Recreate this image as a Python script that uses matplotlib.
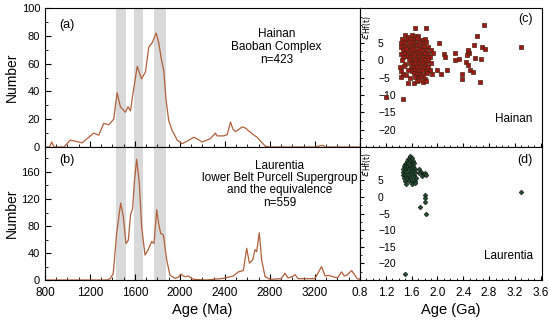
import matplotlib
matplotlib.use('Agg')
import matplotlib.pyplot as plt
from matplotlib.ticker import MultipleLocator
import numpy as np

plt.rcParams['font.family'] = ['Liberation Sans', 'DejaVu Sans']

# ---------------- data ----------------
# (a) Hainan, Baoban Complex: age (Ma) vs number
hainan_age = [800, 840, 860, 880, 970, 1024, 1080, 1129, 1189, 1233, 1278, 1322, 1367,
              1411, 1441, 1470, 1515, 1538, 1560, 1581, 1620, 1658, 1693, 1723, 1753,
              1788, 1811, 1835, 1856, 1876, 1900, 1930, 1975, 2019, 2070, 2122, 2160,
              2196, 2240, 2270, 2315, 2330, 2350, 2390, 2420, 2449, 2470, 2493, 2520,
              2553, 2585, 2612, 2650, 2686, 2730, 2760, 2800, 3200, 3250, 3271, 3290, 3600]
hainan_num = [0, 0, 3.6, 0, 0, 5, 4, 3, 7, 10, 8.5, 17, 16,
              20, 39, 29, 25, 29, 26, 38, 58, 49, 54, 72, 75,
              82, 75, 63, 55, 34, 19, 12, 5, 2.4, 4.5, 7, 5.5,
              3.6, 5, 6, 10, 8, 8, 8, 9, 18, 13, 11, 12.5,
              14.5, 13.5, 11.5, 9, 7, 3, 0.5, 0, 0, 1, 1.2, 0, 0]

# (b) Laurentia, lower Belt Purcell Supergroup and the equivalence
laur_age = [800, 1348, 1380, 1407, 1437, 1473, 1496, 1520, 1541, 1561, 1579, 1594, 1615,
            1638, 1659, 1689, 1718, 1748, 1769, 1793, 1810, 1828, 1852, 1882, 1911,
            1956, 1985, 2009, 2028, 2045, 2075, 2119, 2237, 2385, 2474, 2519, 2563,
            2593, 2617, 2647, 2667, 2682, 2705, 2726, 2756, 2800, 2900, 2933, 2960,
            3000, 3022, 3050, 3200, 3259, 3290, 3317, 3400, 3437, 3460, 3481, 3526, 3576, 3600]
laur_num = [0, 0, 2, 10, 69, 114, 94, 54, 59, 97, 106, 144, 179,
            144, 79, 37, 45, 57, 54, 104, 84, 69, 67, 30, 7,
            2.5, 4, 9, 6, 5, 6, 1, 0, 2.5, 6, 12, 14,
            47, 25, 30, 45, 42, 70, 30, 5, 1, 2, 10, 3,
            5, 8, 2, 2, 20, 6, 7, 3, 12, 6, 7, 14, 2, 1]

# grey age bands (Ma)
bands = [(1430, 1520), (1590, 1670), (1770, 1875)]

# (c) Hainan zircon age (Ga) vs eHf(t)
hainan_hf = [
    (1.20, -10.7), (1.47, -11.1), (1.54, -6.6), (1.63, -6.6), (1.66, 9.2), (1.82, 9.2),
    (2.72, 10.2), (2.61, 7.0), (2.03, 4.8), (2.27, 2.1), (2.10, 1.9), (2.12, 1.0),
    (2.33, 0.2), (2.28, 0.0), (1.99, -2.9), (2.15, -2.7), (2.05, -3.9), (2.38, -3.9),
    (2.38, -5.5), (2.56, 4.4), (2.47, 2.6), (2.49, 2.0), (2.46, 1.6), (2.48, 3.0),
    (2.45, -0.5), (2.47, -1.5), (2.51, -2.9), (2.55, -3.4), (2.59, 0.5), (2.68, 0.2),
    (2.69, 3.9), (2.73, 3.1), (2.66, -6.3), (3.29, 3.8),
    (1.50, 7.1), (1.55, 6.8), (1.60, 7.3), (1.66, 6.9), (1.70, 7.0),
    (1.45, 6.1), (1.52, 5.8), (1.58, 6.2), (1.63, 5.9), (1.68, 6.3), (1.74, 5.7), (1.80, 6.0),
    (1.43, 4.9), (1.48, 5.2), (1.56, 4.8), (1.61, 5.1), (1.66, 4.7), (1.71, 5.3), (1.77, 4.9), (1.83, 5.2),
    (1.44, 3.9), (1.50, 4.2), (1.54, 3.7), (1.59, 4.1), (1.64, 3.8), (1.69, 4.3), (1.73, 3.9), (1.79, 4.0), (1.86, 3.7),
    (1.46, 2.8), (1.52, 3.2), (1.57, 2.9), (1.62, 3.1), (1.67, 2.7), (1.72, 3.3), (1.76, 2.9), (1.82, 3.0), (1.90, 2.8),
    (1.43, 1.9), (1.49, 2.2), (1.55, 1.8), (1.60, 2.1), (1.65, 1.7), (1.70, 2.2), (1.75, 1.9), (1.80, 2.0), (1.85, 1.8), (1.93, 2.1),
    (1.47, 0.9), (1.53, 1.2), (1.58, 0.8), (1.63, 1.1), (1.68, 0.7), (1.73, 1.2), (1.78, 0.9), (1.84, 1.0), (1.88, 0.8),
    (1.45, -0.1), (1.56, 0.2), (1.61, -0.2), (1.66, 0.1), (1.71, -0.3), (1.76, 0.2), (1.81, -0.1), (1.86, 0.1),
    (1.50, -1.1), (1.57, -0.8), (1.62, -1.2), (1.67, -0.9), (1.72, -1.1), (1.77, -0.8), (1.83, -1.2), (1.90, -0.9),
    (1.42, -2.1), (1.48, -1.8), (1.59, -2.2), (1.64, -1.9), (1.69, -2.1), (1.74, -1.8), (1.79, -2.2), (1.85, -1.9),
    (1.44, -3.0), (1.55, -2.8), (1.61, -3.2), (1.66, -2.9), (1.71, -3.1), (1.76, -2.8), (1.82, -3.2), (1.88, -2.9),
    (1.46, -3.9), (1.52, -4.2), (1.63, -3.8), (1.68, -4.1), (1.73, -3.9), (1.78, -4.2), (1.84, -3.8), (1.92, -4.0),
    (1.43, -4.9), (1.58, -5.2), (1.65, -4.8), (1.70, -5.1), (1.75, -4.9), (1.80, -5.3),
    (1.68, -6.1), (1.72, -5.8), (1.77, -6.2), (1.83, -5.9),
]

# (d) Laurentia zircon age (Ga) vs eHf(t)
laur_hf = [
    (1.57, 12.2), (1.55, 11.5), (1.60, 11.6), (1.53, 10.8), (1.58, 10.9), (1.62, 10.7),
    (1.50, 10.0), (1.55, 10.1), (1.60, 9.9), (1.64, 10.2), (1.48, 9.2), (1.53, 9.3),
    (1.58, 9.1), (1.62, 9.4), (1.46, 8.4), (1.51, 8.5), (1.56, 8.3), (1.60, 8.6),
    (1.65, 8.4), (1.47, 7.5), (1.52, 7.6), (1.57, 7.4), (1.61, 7.7), (1.66, 7.5),
    (1.46, 6.6), (1.50, 6.7), (1.55, 6.5), (1.59, 6.8), (1.64, 6.6), (1.48, 5.7),
    (1.53, 5.8), (1.58, 5.6), (1.63, 5.9), (1.67, 5.7), (1.50, 4.8), (1.56, 4.9),
    (1.61, 4.7), (1.66, 4.9), (1.52, 4.0), (1.60, 3.9), (1.65, 4.1),
    (1.72, 8.3), (1.75, 7.6), (1.78, 6.9), (1.81, 7.3), (1.83, 6.6), (1.76, 6.3), (1.71, 7.1),
    (1.81, 0.6), (1.81, -0.4), (1.81, -1.4), (1.73, -3.1), (1.82, -5.1),
    (3.29, 1.4), (1.49, -23.2),
]

# ---------------- figure ----------------
fig = plt.figure(figsize=(5.5, 3.21), dpi=100)
ax_a = fig.add_axes([0.0818, 0.542, 0.5727, 0.433])
ax_b = fig.add_axes([0.0818, 0.1277, 0.5727, 0.4143])
ax_c = fig.add_axes([0.6545, 0.542, 0.3309, 0.433])
ax_d = fig.add_axes([0.6545, 0.1277, 0.3309, 0.4143])

line_col = '#b0603a'
band_col = '#d9d9d9'

for ax in (ax_a, ax_b):
    for lo, hi in bands:
        ax.axvspan(lo, hi, color=band_col, lw=0, zorder=0)
    ax.set_xlim(800, 3600)
    ax.xaxis.set_major_locator(MultipleLocator(400))
    ax.xaxis.set_minor_locator(MultipleLocator(100))
    ax.tick_params(which='both', direction='in', labelsize=8, top=False)
    ax.tick_params(axis='x', pad=5, labelsize=8.5)
    ax.tick_params(which='major', length=4)
    ax.tick_params(which='minor', length=2)
    ax.set_ylabel('Number', fontsize=10)
    ax.yaxis.set_label_coords(-0.082, 0.5)

ax_a.plot(hainan_age, hainan_num, color=line_col, lw=0.9)
ax_a.set_ylim(0, 100)
ax_a.yaxis.set_major_locator(MultipleLocator(20))
ax_a.yaxis.set_minor_locator(MultipleLocator(10))
ax_a.tick_params(labelbottom=False)
ax_a.text(0.045, 0.88, '(a)', transform=ax_a.transAxes, fontsize=9, va='center')
ax_a.text(0.735, 0.72, 'Hainan\nBaoban Complex\nn=423', transform=ax_a.transAxes,
          fontsize=8.5, ha='center', va='center', linespacing=1.1)

ax_b.plot(laur_age, laur_num, color=line_col, lw=0.9)
ax_b.set_ylim(0, 197)
ax_b.yaxis.set_major_locator(MultipleLocator(40))
ax_b.yaxis.set_minor_locator(MultipleLocator(20))
ax_b.set_xticks([800, 1200, 1600, 2000, 2400, 2800, 3200])
ax_b.set_xlabel('Age (Ma)', fontsize=10.5, labelpad=3)
ax_b.text(0.045, 0.9, '(b)', transform=ax_b.transAxes, fontsize=9, va='center')
ax_b.text(0.745, 0.72, 'Laurentia\nlower Belt Purcell Supergroup\nand the equivalence\nn=559',
          transform=ax_b.transAxes, fontsize=8.5, ha='center', va='center', linespacing=1.05)

for ax in (ax_c, ax_d):
    ax.set_xlim(0.8, 3.62)
    ax.set_ylim(-25, 15)
    ax.xaxis.set_major_locator(MultipleLocator(0.4))
    ax.xaxis.set_minor_locator(MultipleLocator(0.1))
    ax.set_yticks([5, 0, -5, -10, -15, -20])
    ax.yaxis.set_minor_locator(MultipleLocator(2.5))
    ax.tick_params(which='both', direction='in', labelsize=7.5)
    ax.tick_params(axis='y', which='both', pad=-13)
    ax.tick_params(axis='x', pad=5)
    ax.tick_params(which='major', length=3)
    ax.tick_params(which='minor', length=1.5)
    for lab in ax.get_yticklabels():
        lab.set_horizontalalignment('left')

hx, hy = zip(*hainan_hf)
ax_c.scatter(hx, hy, marker='s', s=7, facecolor='#a01818', edgecolor='#4a2810', lw=0.5, zorder=3)
ax_c.tick_params(labelbottom=False)
ax_c.text(0.045, 0.86, r'$\epsilon_{\mathrm{Hf(t)}}$', transform=ax_c.transAxes,
          rotation=90, fontsize=8, ha='center', va='center')
ax_c.text(0.95, 0.92, '(c)', transform=ax_c.transAxes, fontsize=9, ha='right', va='center')
ax_c.text(0.95, 0.2, 'Hainan', transform=ax_c.transAxes, fontsize=8.5, ha='right', va='center')

lx, ly = zip(*laur_hf)
ax_d.scatter(lx, ly, marker='D', s=6, facecolor='#1e4d2b', edgecolor='#111111', lw=0.4, zorder=3)
ax_d.set_xticks([0.8, 1.2, 1.6, 2.0, 2.4, 2.8, 3.2, 3.6])
ax_d.set_xticklabels(['0.8', '1.2', '1.6', '2.0', '2.4', '2.8', '3.2', '3.6'])
ax_d.tick_params(axis='x', labelsize=8.5)
ax_d.set_xlabel('Age (Ga)', fontsize=10.5, labelpad=3)
ax_d.text(0.045, 0.87, r'$\epsilon_{\mathrm{Hf(t)}}$', transform=ax_d.transAxes,
          rotation=90, fontsize=8, ha='center', va='center')
ax_d.text(0.95, 0.9, '(d)', transform=ax_d.transAxes, fontsize=9, ha='right', va='center')
ax_d.text(0.95, 0.18, 'Laurentia', transform=ax_d.transAxes, fontsize=8.5, ha='right', va='center')

fig.savefig('out.png', dpi=100)
